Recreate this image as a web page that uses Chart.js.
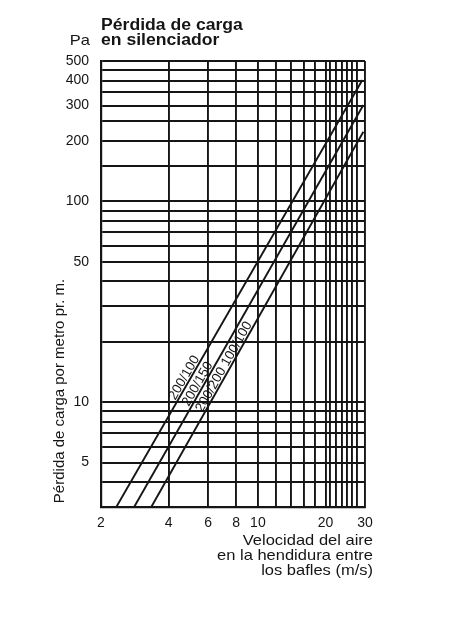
<!DOCTYPE html>
<html>
<head>
<meta charset="utf-8">
<script src="https://cdn.jsdelivr.net/npm/chart.js@4.4.0/dist/chart.umd.min.js"></script>
<style>
    html, body { margin: 0; padding: 0; background: #fff; }
</style>
</head>
<body>
<canvas id="lossChart" width="450" height="623"></canvas>
<script>
// lines: start/end of each straight line (log-log)
const seriesNames = ["200/100", "200/150", "200/200 100/100"];
const speedStart = [2.34, 2.81, 3.35];
const speedEnd = [29.2, 29.5, 29.5];
const lossStart = [3, 3, 3];
const lossEnd = [402, 302, 222];

// grid lines and which of them carry a label
const xGrid = [2, 4, 6, 8, 10, 12, 14, 16, 18, 20, 21, 22.3, 23.6, 25, 26.3, 27.6, 30];
const xLabels = [2, 4, 6, 8, 10, 20, 30];
const yGrid = [3, 4, 5, 6, 7, 8, 9, 10, 20, 30, 40, 50, 60, 70, 80, 90, 100, 150, 200, 250, 300, 350, 400, 450, 500];
const yLabels = [5, 10, 50, 100, 200, 300, 400, 500];

const ink = "#151515";
const family = "'Liberation Sans', Arial, sans-serif";

setTicks = (values) => (scale) => {
    scale.ticks = values.map((v) => ({ value: v }));
};

showOnly = (values) => (value) => (values.includes(value) ? String(value) : "");

// horizontally stretched text, the scan is a bit wider than tall
put = (ctx, text, x, y, font, align) => {
    ctx.save();
    ctx.translate(x, y);
    ctx.scale(1.1, 1);
    ctx.font = font;
    ctx.textAlign = align;
    ctx.fillText(text, 0, 0);
    ctx.restore();
};

const texts = {
    id: "texts",
    afterDraw: (chart) => {
        const ctx = chart.ctx;
        ctx.save();
        ctx.fillStyle = ink;
        ctx.textBaseline = "alphabetic";
        put(ctx, "Pérdida de carga", 101, 30, "bold 16px " + family, "left");
        put(ctx, "en silenciador", 101, 45, "bold 16px " + family, "left");
        put(ctx, "Pa", 90, 45, "15px " + family, "right");

        put(ctx, "Velocidad del aire", 373, 545, "15px " + family, "right");
        put(ctx, "en la hendidura entre", 373, 560, "15px " + family, "right");
        put(ctx, "los bafles (m/s)", 373, 575, "15px " + family, "right");

        ctx.translate(64, 391);
        ctx.rotate(-Math.PI / 2);
        ctx.font = "15px " + family;
        ctx.textAlign = "center";
        ctx.fillText("Pérdida de carga por metro pr. m.", 0, 0);
        ctx.restore();
    },
};

const lineLabels = {
    id: "lineLabels",
    afterDatasetsDraw: (chart, args, opts) => {
        const { ctx, scales } = chart;
        seriesNames.forEach((name, i) => {
            const x0 = scales.x.getPixelForValue(speedStart[i]);
            const y0 = scales.y.getPixelForValue(lossStart[i]);
            const x1 = scales.x.getPixelForValue(speedEnd[i]);
            const y1 = scales.y.getPixelForValue(lossEnd[i]);
            const py = scales.y.getPixelForValue(opts.at[i]);
            const px = x0 + ((py - y0) / (y1 - y0)) * (x1 - x0);
            ctx.save();
            ctx.translate(px, py);
            ctx.rotate(Math.atan2(y1 - y0, x1 - x0));
            ctx.font = "13.5px " + family;
            ctx.fillStyle = ink;
            ctx.textAlign = "center";
            ctx.fillText(name, 0, -2);
            ctx.restore();
        });
    },
};

const datasets = seriesNames.map((name, i) => ({
    label: name,
    data: [
        { x: speedStart[i], y: lossStart[i] },
        { x: speedEnd[i], y: lossEnd[i] },
    ],
    borderColor: ink,
    borderWidth: 1.9,
    pointRadius: 0,
    fill: false,
}));

const axisCommon = {
    type: "logarithmic",
    grid: { color: ink, lineWidth: 1.9, drawTicks: false },
    border: { color: ink, width: 2.2 },
};

const config = {
    type: "line",
    data: { datasets: datasets },
    options: {
        responsive: false,
        animation: false,
        layout: { padding: { top: 61, right: 85, left: 0, bottom: 0 } },
        plugins: {
            legend: { display: false },
            tooltip: { enabled: false },
            lineLabels: { at: [12.8, 11.9, 14.5] },
        },
        scales: {
            x: {
                ...axisCommon,
                min: 2,
                max: 30,
                afterBuildTicks: setTicks(xGrid),
                afterFit: (s) => { s.height = 116; },
                ticks: {
                    autoSkip: false,
                    maxRotation: 0,
                    padding: 8,
                    color: ink,
                    font: { family: family, size: 14 },
                    callback: showOnly(xLabels),
                },
            },
            y: {
                ...axisCommon,
                min: 3,
                max: 500,
                afterBuildTicks: setTicks(yGrid),
                afterFit: (s) => { s.width = 101; },
                ticks: {
                    autoSkip: false,
                    padding: 12,
                    color: ink,
                    font: { family: family, size: 14 },
                    callback: showOnly(yLabels),
                },
            },
        },
    },
    plugins: [texts, lineLabels],
};

const lossChart = new Chart(document.getElementById("lossChart"), config);
</script>
</body>
</html>
